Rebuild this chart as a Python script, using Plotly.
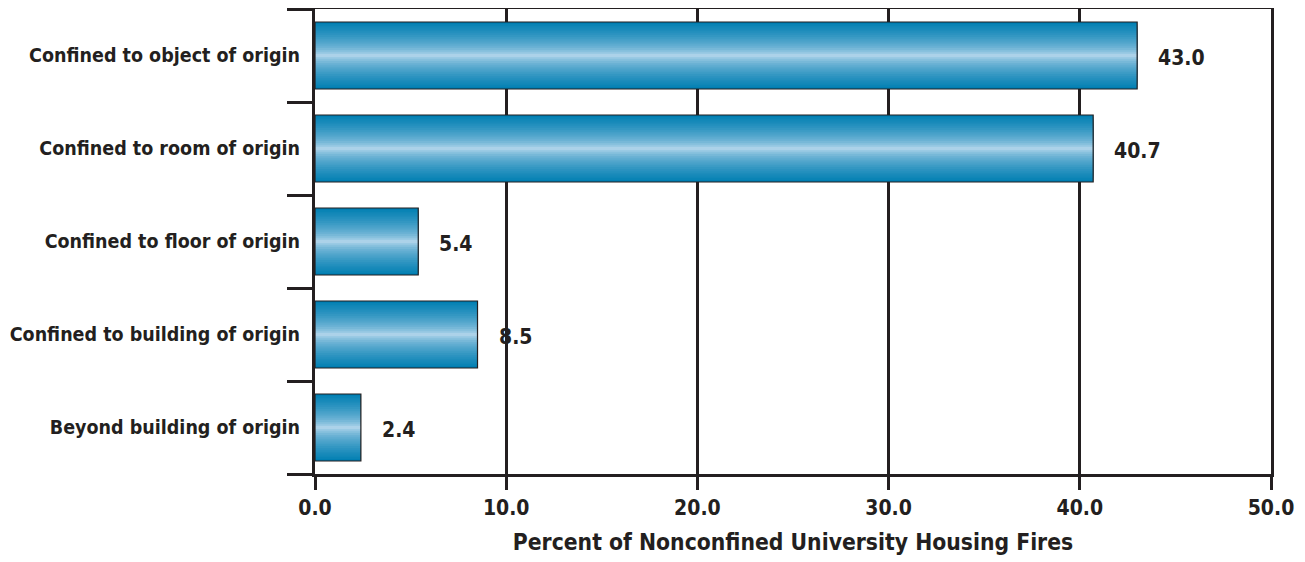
import plotly.graph_objects as go

categories = [
    "Confined to object of origin",
    "Confined to room of origin",
    "Confined to floor of origin",
    "Confined to building of origin",
    "Beyond building of origin",
]
values = [43.0, 40.7, 5.4, 8.5, 2.4]
x_ticks = [0, 10, 20, 30, 40, 50]
x_title = "Percent of Nonconfined University Housing Fires"

FONT = "Liberation Sans Narrow, DejaVu Sans Condensed, Arial Narrow, sans-serif"
INK = "#231f20"
DARK = (0, 126, 178)
LIGHT = (200, 224, 242)
BAR_W = 0.72
N = 18

fig = go.Figure()


def col(t):
    f = min(1.0, t) ** 0.55
    r, g, b = (int(round(LIGHT[i] + (DARK[i] - LIGHT[i]) * f)) for i in range(3))
    return f"rgb({r},{g},{b})"


for k in range(N):
    frac = 1 - k / N
    t = 1 - (k + 0.5) / N if k > 0 else 1.0
    fig.add_trace(go.Bar(
        x=values, y=categories, orientation="h",
        width=BAR_W * frac,
        marker=dict(color=col(t), line=dict(width=0)),
        hoverinfo="skip", showlegend=False,
    ))

# outline on top
fig.add_trace(go.Bar(
    x=values, y=categories, orientation="h", width=BAR_W,
    marker=dict(color="rgba(0,0,0,0)", line=dict(color=INK, width=1.2)),
    showlegend=False,
))

for c, v in zip(categories, values):
    fig.add_annotation(
        x=v, y=c, text=f"{v:.1f}", showarrow=False,
        xanchor="left", yanchor="middle", xshift=19, yshift=-2,
        font=dict(family=FONT, size=21, color=INK, weight="bold"),
    )

# page body has an 8px margin: size the figure so the plot lands where the reference's does
fig.update_layout(
    barmode="overlay",
    width=1297, height=554,
    margin=dict(l=307, r=34, t=1, b=88),
    plot_bgcolor="white", paper_bgcolor="white",
    font=dict(family=FONT, color=INK, weight="bold"),
    xaxis=dict(
        range=[0, 50], tickvals=x_ticks, tickformat=".1f",
        showgrid=True, gridcolor=INK, gridwidth=2.5,
        showline=True, mirror=True, linecolor=INK, linewidth=3,
        ticks="outside", ticklen=13, tickwidth=2.5, tickcolor=INK,
        tickfont=dict(family=FONT, size=21, color=INK, weight="bold"),
        zeroline=False, automargin=False,
        title=dict(text=x_title, font=dict(family=FONT, size=22.7, color=INK, weight="bold"), standoff=15),
    ),
    yaxis=dict(
        categoryorder="array", categoryarray=categories[::-1],
        showline=True, mirror=True, linecolor=INK, linewidth=3,
        ticks="outside", tickson="boundaries", ticklen=25, tickwidth=2.5, tickcolor=INK,
        showgrid=False, automargin=False,
        tickfont=dict(family=FONT, size=19.5, color=INK, weight="bold"),
        ticklabelstandoff=8,
    ),
)

fig.write_html("out.html")
